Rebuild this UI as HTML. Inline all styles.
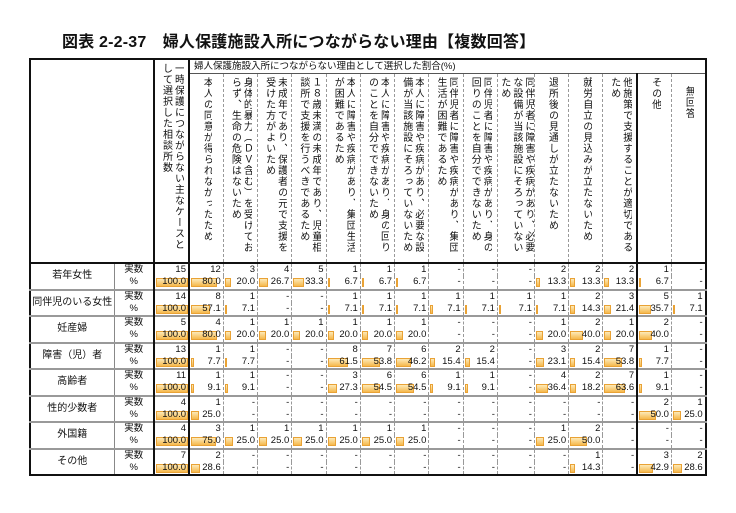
<!DOCTYPE html>
<html><head><meta charset="utf-8">
<style>
body{margin:0;background:#fff;width:736px;height:513px;overflow:hidden;position:relative;font-family:"Liberation Sans","Noto Sans CJK JP",sans-serif;color:#111}
.title{position:absolute;left:62px;top:28px;font-size:16px;font-weight:bold;white-space:nowrap;letter-spacing:0.2px}
table{position:absolute;left:29px;top:58px;border-collapse:collapse;table-layout:fixed;border:2px solid #111}
td{padding:0;font-size:9.5px;line-height:12px;border-left:1px dashed #999;border-right:1px dashed #999;overflow:hidden;position:relative}
.ban td{height:13px;font-size:9.5px;border-bottom:1px solid #555;white-space:nowrap;padding-left:4px}
.hd td{height:188px;vertical-align:top;text-align:center}
.v{display:inline-block;writing-mode:vertical-rl;font-size:10px;line-height:12px;letter-spacing:1px;white-space:nowrap;text-align:left;margin-top:3px;max-height:184px;overflow:hidden}
tr.a td{height:12px;border-top:2px solid #999}
tr.b td{height:12.5px}
td.n{text-align:right;padding-right:2px}
td.lab{text-align:center;font-size:10px;border-right:1px solid #888}
td.k{text-align:center;font-size:9.5px}
.tk{border-right:2px solid #111 !important}
.bar{position:absolute;left:1px;top:2px;height:9px;background:linear-gradient(to bottom,#fde9b8,#f6b84c);border:1px solid #e9a235;box-sizing:border-box}
td.n span{position:relative}
</style></head><body>
<div class="title">図表 2-2-37　婦人保護施設入所につながらない理由【複数回答】</div>
<table>
<colgroup><col style="width:84px"><col style="width:40px"><col style="width:35px"><col span="15" style="width:34.27px"></colgroup>
<tr class="ban"><td colspan="2" rowspan="2" class="tk" style="border-bottom:2px solid #111"></td><td rowspan="2" class="tk" style="vertical-align:top;text-align:center;border-bottom:2px solid #111;padding:0"><div class="v" style="max-height:200px">一時保護につながらない主なケースと<br>して選択した相談所数</div></td><td colspan="15">婦人保護施設入所につながらない理由として選択した割合(%)</td></tr>
<tr class="hd">
<td><div class="v">本人の同意が得られなかったため</div></td>
<td><div class="v">身体的暴力（ＤＶ含む）を受けてお<br>らず、生命の危険はないため</div></td>
<td><div class="v">未成年であり、保護者の元で支援を<br>受けた方がよいため</div></td>
<td><div class="v">１８歳未満の未成年であり、児童相<br>談所で支援を行うべきであるため</div></td>
<td><div class="v">本人に障害や疾病があり、集団生活<br>が困難であるため</div></td>
<td><div class="v">本人に障害や疾病があり、身の回り<br>のことを自分でできないため</div></td>
<td><div class="v">本人に障害や疾病があり、必要な設<br>備が当該施設にそろっていないため</div></td>
<td><div class="v">同伴児者に障害や疾病があり、集団<br>生活が困難であるため</div></td>
<td><div class="v">同伴児者に障害や疾病があり、身の<br>回りのことを自分でできないため</div></td>
<td><div class="v">同伴児者に障害や疾病があり、必要<br>な設備が当該施設にそろっていない<br>ため</div></td>
<td><div class="v">退所後の見通しが立たないため</div></td>
<td><div class="v">就労自立の見込みが立たないため</div></td>
<td class="tk"><div class="v">他施策で支援することが適切である<br>ため</div></td>
<td><div class="v">その他</div></td>
<td><div class="v" style="margin-top:12px">無回答</div></td>
</tr>
<!-- 若年女性 -->
<tr class="a"><td rowspan="2" class="lab" style="border-top:2px solid #111">若年女性</td><td class="k tk" style="border-top:2px solid #111">実数</td><td class="n tk" style="border-top:2px solid #111">15</td><td class="n" style="border-top:2px solid #111">12</td><td class="n" style="border-top:2px solid #111">3</td><td class="n" style="border-top:2px solid #111">4</td><td class="n" style="border-top:2px solid #111">5</td><td class="n" style="border-top:2px solid #111">1</td><td class="n" style="border-top:2px solid #111">1</td><td class="n" style="border-top:2px solid #111">1</td><td class="n" style="border-top:2px solid #111">-</td><td class="n" style="border-top:2px solid #111">-</td><td class="n" style="border-top:2px solid #111">-</td><td class="n" style="border-top:2px solid #111">2</td><td class="n" style="border-top:2px solid #111">2</td><td class="n tk" style="border-top:2px solid #111">2</td><td class="n" style="border-top:2px solid #111">1</td><td class="n" style="border-top:2px solid #111">-</td></tr>
<tr class="b"><td class="k tk">%</td><td class="n tk"><div class="bar" style="width:32px"></div><span>100.0</span></td><td class="n"><div class="bar" style="width:80%"></div><span>80.0</span></td><td class="n"><div class="bar" style="width:20%"></div><span>20.0</span></td><td class="n"><div class="bar" style="width:26.7%"></div><span>26.7</span></td><td class="n"><div class="bar" style="width:33.3%"></div><span>33.3</span></td><td class="n"><div class="bar" style="width:6.7%"></div><span>6.7</span></td><td class="n"><div class="bar" style="width:6.7%"></div><span>6.7</span></td><td class="n"><div class="bar" style="width:6.7%"></div><span>6.7</span></td><td class="n">-</td><td class="n">-</td><td class="n">-</td><td class="n"><div class="bar" style="width:13.3%"></div><span>13.3</span></td><td class="n"><div class="bar" style="width:13.3%"></div><span>13.3</span></td><td class="n tk"><div class="bar" style="width:13.3%"></div><span>13.3</span></td><td class="n"><div class="bar" style="width:6.7%"></div><span>6.7</span></td><td class="n">-</td></tr>
<!-- 同伴児 -->
<tr class="a"><td rowspan="2" class="lab">同伴児のいる女性</td><td class="k tk">実数</td><td class="n tk">14</td><td class="n">8</td><td class="n">1</td><td class="n">-</td><td class="n">-</td><td class="n">1</td><td class="n">1</td><td class="n">1</td><td class="n">1</td><td class="n">1</td><td class="n">1</td><td class="n">1</td><td class="n">2</td><td class="n tk">3</td><td class="n">5</td><td class="n">1</td></tr>
<tr class="b"><td class="k tk">%</td><td class="n tk"><div class="bar" style="width:32px"></div><span>100.0</span></td><td class="n"><div class="bar" style="width:57.1%"></div><span>57.1</span></td><td class="n"><div class="bar" style="width:7.1%"></div><span>7.1</span></td><td class="n">-</td><td class="n">-</td><td class="n"><div class="bar" style="width:7.1%"></div><span>7.1</span></td><td class="n"><div class="bar" style="width:7.1%"></div><span>7.1</span></td><td class="n"><div class="bar" style="width:7.1%"></div><span>7.1</span></td><td class="n"><div class="bar" style="width:7.1%"></div><span>7.1</span></td><td class="n"><div class="bar" style="width:7.1%"></div><span>7.1</span></td><td class="n"><div class="bar" style="width:7.1%"></div><span>7.1</span></td><td class="n"><div class="bar" style="width:7.1%"></div><span>7.1</span></td><td class="n"><div class="bar" style="width:14.3%"></div><span>14.3</span></td><td class="n tk"><div class="bar" style="width:21.4%"></div><span>21.4</span></td><td class="n"><div class="bar" style="width:35.7%"></div><span>35.7</span></td><td class="n"><div class="bar" style="width:7.1%"></div><span>7.1</span></td></tr>
<!-- 妊産婦 -->
<tr class="a"><td rowspan="2" class="lab">妊産婦</td><td class="k tk">実数</td><td class="n tk">5</td><td class="n">4</td><td class="n">1</td><td class="n">1</td><td class="n">1</td><td class="n">1</td><td class="n">1</td><td class="n">1</td><td class="n">-</td><td class="n">-</td><td class="n">-</td><td class="n">1</td><td class="n">2</td><td class="n tk">1</td><td class="n">2</td><td class="n">-</td></tr>
<tr class="b"><td class="k tk">%</td><td class="n tk"><div class="bar" style="width:32px"></div><span>100.0</span></td><td class="n"><div class="bar" style="width:80%"></div><span>80.0</span></td><td class="n"><div class="bar" style="width:20%"></div><span>20.0</span></td><td class="n"><div class="bar" style="width:20%"></div><span>20.0</span></td><td class="n"><div class="bar" style="width:20%"></div><span>20.0</span></td><td class="n"><div class="bar" style="width:20%"></div><span>20.0</span></td><td class="n"><div class="bar" style="width:20%"></div><span>20.0</span></td><td class="n"><div class="bar" style="width:20%"></div><span>20.0</span></td><td class="n">-</td><td class="n">-</td><td class="n">-</td><td class="n"><div class="bar" style="width:20%"></div><span>20.0</span></td><td class="n"><div class="bar" style="width:40%"></div><span>40.0</span></td><td class="n tk"><div class="bar" style="width:20%"></div><span>20.0</span></td><td class="n"><div class="bar" style="width:40%"></div><span>40.0</span></td><td class="n">-</td></tr>
<!-- 障害 -->
<tr class="a"><td rowspan="2" class="lab">障害（児）者</td><td class="k tk">実数</td><td class="n tk">13</td><td class="n">1</td><td class="n">1</td><td class="n">-</td><td class="n">-</td><td class="n">8</td><td class="n">7</td><td class="n">6</td><td class="n">2</td><td class="n">2</td><td class="n">-</td><td class="n">3</td><td class="n">2</td><td class="n tk">7</td><td class="n">1</td><td class="n">-</td></tr>
<tr class="b"><td class="k tk">%</td><td class="n tk"><div class="bar" style="width:32px"></div><span>100.0</span></td><td class="n"><div class="bar" style="width:7.7%"></div><span>7.7</span></td><td class="n"><div class="bar" style="width:7.7%"></div><span>7.7</span></td><td class="n">-</td><td class="n">-</td><td class="n"><div class="bar" style="width:61.5%"></div><span>61.5</span></td><td class="n"><div class="bar" style="width:53.8%"></div><span>53.8</span></td><td class="n"><div class="bar" style="width:46.2%"></div><span>46.2</span></td><td class="n"><div class="bar" style="width:15.4%"></div><span>15.4</span></td><td class="n"><div class="bar" style="width:15.4%"></div><span>15.4</span></td><td class="n">-</td><td class="n"><div class="bar" style="width:23.1%"></div><span>23.1</span></td><td class="n"><div class="bar" style="width:15.4%"></div><span>15.4</span></td><td class="n tk"><div class="bar" style="width:53.8%"></div><span>53.8</span></td><td class="n"><div class="bar" style="width:7.7%"></div><span>7.7</span></td><td class="n">-</td></tr>
<!-- 高齢者 -->
<tr class="a"><td rowspan="2" class="lab">高齢者</td><td class="k tk">実数</td><td class="n tk">11</td><td class="n">1</td><td class="n">1</td><td class="n">-</td><td class="n">-</td><td class="n">3</td><td class="n">6</td><td class="n">6</td><td class="n">1</td><td class="n">1</td><td class="n">-</td><td class="n">4</td><td class="n">2</td><td class="n tk">7</td><td class="n">1</td><td class="n">-</td></tr>
<tr class="b"><td class="k tk">%</td><td class="n tk"><div class="bar" style="width:32px"></div><span>100.0</span></td><td class="n"><div class="bar" style="width:9.1%"></div><span>9.1</span></td><td class="n"><div class="bar" style="width:9.1%"></div><span>9.1</span></td><td class="n">-</td><td class="n">-</td><td class="n"><div class="bar" style="width:27.3%"></div><span>27.3</span></td><td class="n"><div class="bar" style="width:54.5%"></div><span>54.5</span></td><td class="n"><div class="bar" style="width:54.5%"></div><span>54.5</span></td><td class="n"><div class="bar" style="width:9.1%"></div><span>9.1</span></td><td class="n"><div class="bar" style="width:9.1%"></div><span>9.1</span></td><td class="n">-</td><td class="n"><div class="bar" style="width:36.4%"></div><span>36.4</span></td><td class="n"><div class="bar" style="width:18.2%"></div><span>18.2</span></td><td class="n tk"><div class="bar" style="width:63.6%"></div><span>63.6</span></td><td class="n"><div class="bar" style="width:9.1%"></div><span>9.1</span></td><td class="n">-</td></tr>
<!-- 性的少数者 -->
<tr class="a"><td rowspan="2" class="lab">性的少数者</td><td class="k tk">実数</td><td class="n tk">4</td><td class="n">1</td><td class="n">-</td><td class="n">-</td><td class="n">-</td><td class="n">-</td><td class="n">-</td><td class="n">-</td><td class="n">-</td><td class="n">-</td><td class="n">-</td><td class="n">-</td><td class="n">-</td><td class="n tk">-</td><td class="n">2</td><td class="n">1</td></tr>
<tr class="b"><td class="k tk">%</td><td class="n tk"><div class="bar" style="width:32px"></div><span>100.0</span></td><td class="n"><div class="bar" style="width:25%"></div><span>25.0</span></td><td class="n">-</td><td class="n">-</td><td class="n">-</td><td class="n">-</td><td class="n">-</td><td class="n">-</td><td class="n">-</td><td class="n">-</td><td class="n">-</td><td class="n">-</td><td class="n">-</td><td class="n tk">-</td><td class="n"><div class="bar" style="width:50%"></div><span>50.0</span></td><td class="n"><div class="bar" style="width:25%"></div><span>25.0</span></td></tr>
<!-- 外国籍 -->
<tr class="a"><td rowspan="2" class="lab">外国籍</td><td class="k tk">実数</td><td class="n tk">4</td><td class="n">3</td><td class="n">1</td><td class="n">1</td><td class="n">1</td><td class="n">1</td><td class="n">1</td><td class="n">1</td><td class="n">-</td><td class="n">-</td><td class="n">-</td><td class="n">1</td><td class="n">2</td><td class="n tk">-</td><td class="n">-</td><td class="n">-</td></tr>
<tr class="b"><td class="k tk">%</td><td class="n tk"><div class="bar" style="width:32px"></div><span>100.0</span></td><td class="n"><div class="bar" style="width:75%"></div><span>75.0</span></td><td class="n"><div class="bar" style="width:25%"></div><span>25.0</span></td><td class="n"><div class="bar" style="width:25%"></div><span>25.0</span></td><td class="n"><div class="bar" style="width:25%"></div><span>25.0</span></td><td class="n"><div class="bar" style="width:25%"></div><span>25.0</span></td><td class="n"><div class="bar" style="width:25%"></div><span>25.0</span></td><td class="n"><div class="bar" style="width:25%"></div><span>25.0</span></td><td class="n">-</td><td class="n">-</td><td class="n">-</td><td class="n"><div class="bar" style="width:25%"></div><span>25.0</span></td><td class="n"><div class="bar" style="width:50%"></div><span>50.0</span></td><td class="n tk">-</td><td class="n">-</td><td class="n">-</td></tr>
<!-- その他 -->
<tr class="a"><td rowspan="2" class="lab">その他</td><td class="k tk">実数</td><td class="n tk">7</td><td class="n">2</td><td class="n">-</td><td class="n">-</td><td class="n">-</td><td class="n">-</td><td class="n">-</td><td class="n">-</td><td class="n">-</td><td class="n">-</td><td class="n">-</td><td class="n">-</td><td class="n">1</td><td class="n tk">-</td><td class="n">3</td><td class="n">2</td></tr>
<tr class="b"><td class="k tk">%</td><td class="n tk"><div class="bar" style="width:32px"></div><span>100.0</span></td><td class="n"><div class="bar" style="width:28.6%"></div><span>28.6</span></td><td class="n">-</td><td class="n">-</td><td class="n">-</td><td class="n">-</td><td class="n">-</td><td class="n">-</td><td class="n">-</td><td class="n">-</td><td class="n">-</td><td class="n">-</td><td class="n"><div class="bar" style="width:14.3%"></div><span>14.3</span></td><td class="n tk">-</td><td class="n"><div class="bar" style="width:42.9%"></div><span>42.9</span></td><td class="n"><div class="bar" style="width:28.6%"></div><span>28.6</span></td></tr>
</table>
</body></html>
